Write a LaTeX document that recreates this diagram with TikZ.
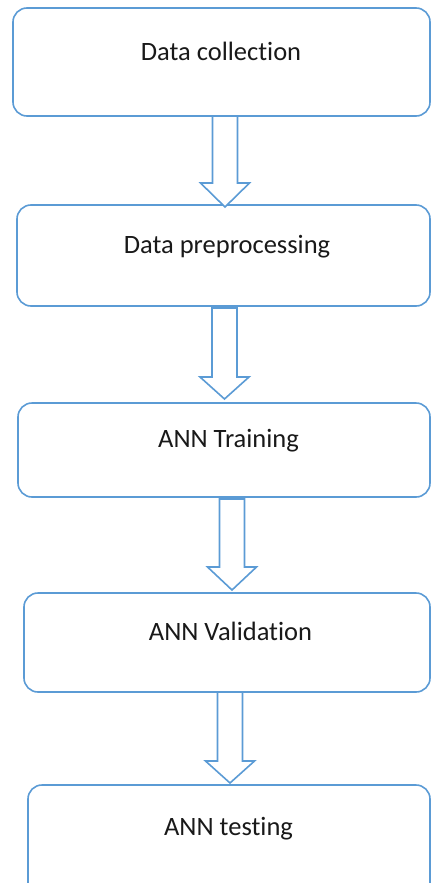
\documentclass[tikz,border=0pt]{standalone}
\usepackage{fontspec}
\setmainfont{Carlito}[Ligatures={NoCommon}]
\usetikzlibrary{calc}
\definecolor{lb}{RGB}{91,155,213}
\definecolor{txt}{RGB}{25,25,25}
\begin{document}
\begin{tikzpicture}[x=1pt,y=-1pt,
  box/.style={draw=lb, line width=1.6pt, rounded corners=14pt, anchor=north west, inner sep=0, outer sep=0},
  lbl/.style={font=\fontsize{26.5}{30}\selectfont, text=txt, inner sep=0, anchor=base},
  barrow/.style={draw=lb, line width=1.6pt, line join=miter, fill=white}]
\useasboundingbox (0,0) rectangle (431,883);
\clip (0,0) rectangle (431,883);
% boxes
\node[box, minimum width=417pt, minimum height=108pt] (b1) at (13,8) {};
\node[box, minimum width=413pt, minimum height=101pt] (b2) at (17,205) {};
\node[box, minimum width=412pt, minimum height=94pt] (b3) at (18,403) {};
\node[box, minimum width=406pt, minimum height=99pt] (b4) at (24,593) {};
\node[box, minimum width=402pt, minimum height=115pt] (b5) at (28,785) {};
% labels
\node[lbl] (t1) at (221,61) {Data collection};
\node[lbl] (t2) at (227,253) {Data preprocessing};
\node[lbl] (t3) at (228.5,447) {ANN Training};
\node[lbl] (t4) at (230.5,640) {ANN Validation};
\node[lbl] (t5) at (228.5,835) {ANN testing};
% block arrows: shaft half-width 12.5, head half-width 24.5
\coordinate (a1t) at (225,116);  \coordinate (a1b) at (225,207);
\coordinate (a2t) at (224.5,308); \coordinate (a2b) at (224.5,399);
\coordinate (a3t) at (232,499);  \coordinate (a3b) at (232,590);
\coordinate (a4t) at (230,692); \coordinate (a4b) at (230,783);
\foreach \t/\b/\h in {a1t/a1b/24, a2t/a2b/22, a3t/a3b/23, a4t/a4b/22}{
  \draw[barrow] ($(\t)+(-12.5,0)$) -- ($(\b)+(-12.5,-\h)$) -- ($(\b)+(-24.5,-\h)$) -- (\b)
    -- ($(\b)+(24.5,-\h)$) -- ($(\b)+(12.5,-\h)$) -- ($(\t)+(12.5,0)$) -- cycle;
}
\end{tikzpicture}
\end{document}
